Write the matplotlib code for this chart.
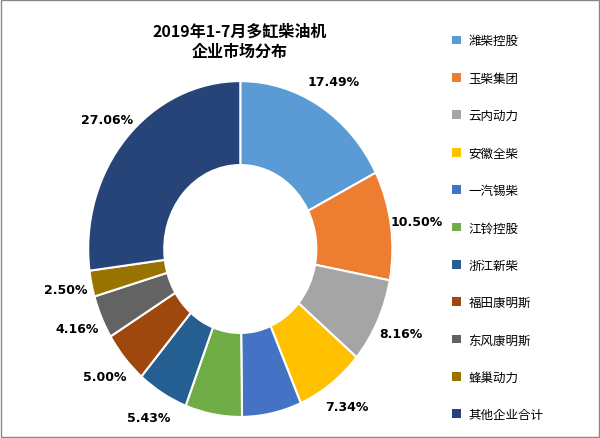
import matplotlib
matplotlib.use("Agg")
import matplotlib.pyplot as plt
from matplotlib.patches import Patch, Rectangle
from matplotlib import font_manager as fm

cjk = None
for f in fm.findSystemFonts():
    if "CJK" in f and ("Regular" in f or "SC" in f):
        cjk = f
        break
if cjk:
    fm.fontManager.addfont(cjk)
    cjk_name = fm.FontProperties(fname=cjk).get_name()
else:
    cjk_name = "Noto Sans CJK SC"
plt.rcParams['font.family'] = [cjk_name, 'DejaVu Sans']

categories = ["潍柴控股", "玉柴集团", "云内动力", "安徽全柴", "一汽锡柴", "江铃控股",
              "浙江新柴", "福田康明斯", "东风康明斯", "蜂巢动力", "其他企业合计"]
values = [17.49, 10.50, 8.16, 7.34, 6.33, 6.03, 5.43, 5.00, 4.16, 2.50, 27.06]
colors = ["#5B9BD5", "#ED7D31", "#A5A5A5", "#FFC000", "#4472C4", "#70AD47",
          "#255E91", "#9E480E", "#636363", "#997300", "#264478"]

fig = plt.figure(figsize=(6, 4.39), dpi=100)
fig.patches.append(Rectangle((0.002, 0.002), 0.996, 0.996, transform=fig.transFigure,
                             fill=False, edgecolor="#888888", linewidth=1))
ax = fig.add_axes([0.147, 0.048, 0.507, 0.765])
wedges, texts, autotexts = ax.pie(values, colors=colors, startangle=90, counterclock=False,
       wedgeprops=dict(width=0.5, edgecolor="white", linewidth=1.5),
       autopct=lambda p: f"{p:.2f}%", pctdistance=1.17)
for t in autotexts:
    t.set_fontsize(9); t.set_fontweight("bold"); t.set_fontfamily("DejaVu Sans")
ax.set_aspect('auto')
ax.set_xlim(-1, 1); ax.set_ylim(-1, 1)

fig.text(0.4, 0.905, "2019年1-7月多缸柴油机\n企业市场分布", ha="center", va="center",
         fontsize=11.5, fontweight="bold", linespacing=1.3)

handles = [Patch(facecolor=c, edgecolor="none") for c in colors]
fig.legend(handles, categories, loc="upper left", bbox_to_anchor=(0.735, 0.945),
           frameon=False, fontsize=9, labelspacing=1.95, handlelength=0.7,
           handleheight=0.7, handletextpad=0.6)
fig.savefig("out.png", dpi=100)
